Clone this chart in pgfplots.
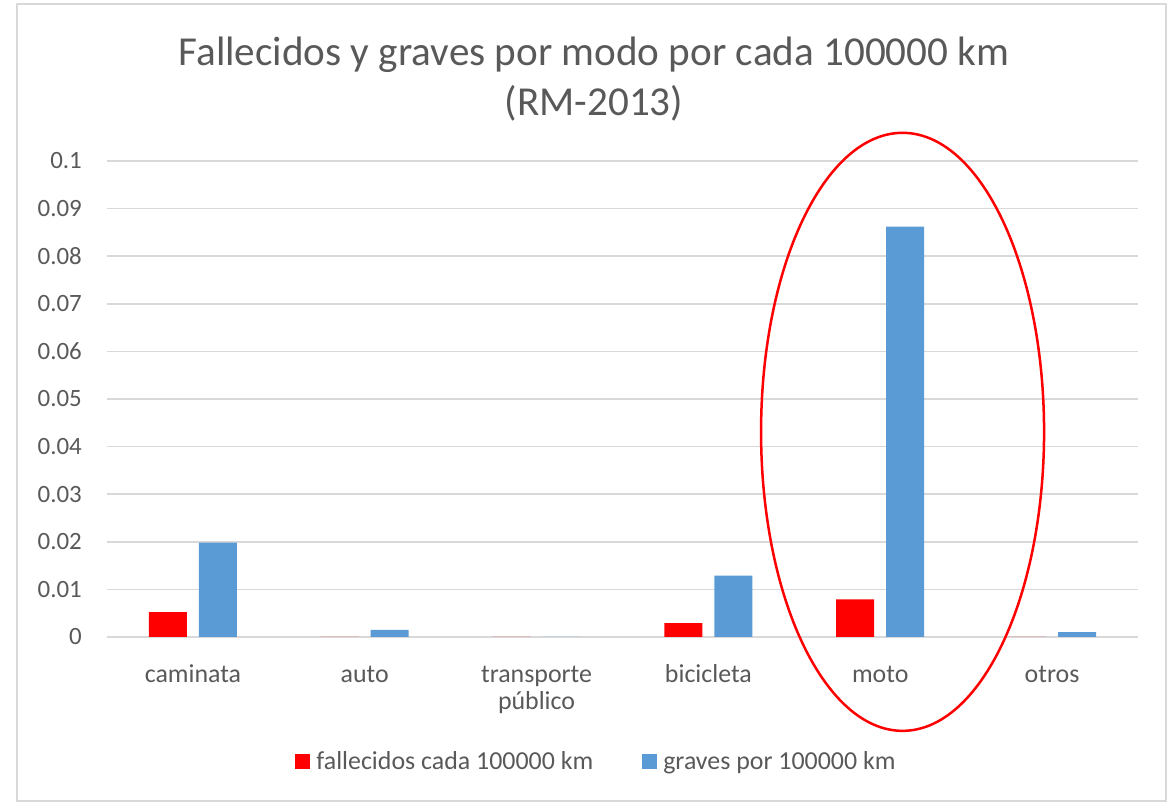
\documentclass[border=0pt]{standalone}
\usepackage{fontspec}
\setmainfont{Carlito}
\usepackage{pgfplots}
\pgfplotsset{compat=1.18}
\definecolor{txt}{HTML}{595959}
\definecolor{gridc}{HTML}{D9D9D9}
\definecolor{bred}{HTML}{FF0000}
\definecolor{bblue}{HTML}{5B9BD5}
\begin{document}
\begin{tikzpicture}[x=1bp,y=1bp]
\path (0,0) rectangle (1174,804);
\draw[gridc, line width=2bp] (17,3) rectangle (1166,800);
\node[txt, font=\fontsize{41.3}{48}\selectfont, anchor=base, inner sep=0pt] at (594,738) {Fallecidos y graves por modo por cada 100000 km};
\node[txt, font=\fontsize{41.3}{48}\selectfont, anchor=base, inner sep=0pt] at (594,688) {(RM-2013)};
\begin{axis}[
  at={(107bp,167bp)}, anchor=south west,
  scale only axis, width=1031bp, height=476bp,
  xmin=-0.5, xmax=5.5, ymin=0, ymax=0.1,
  ybar=12bp, bar width=38bp,
  axis line style={draw=none}, tick style={draw=none},
  ymajorgrids, xmajorgrids=false,
  grid style={gridc, line width=1.5bp},
  ytick={0,0.01,0.02,0.03,0.04,0.05,0.06,0.07,0.08,0.09,0.1},
  yticklabel style={/pgf/number format/.cd, fixed, precision=2, assume math mode=true, /tikz/.cd, txt, font=\fontsize{25}{30}\selectfont, inner sep=0pt, anchor=east, xshift=-25bp},
  xtick={0,1,2,3,4,5},
  xticklabels={\strut caminata, \strut auto, {\strut transporte\\público}, \strut bicicleta, \strut moto, \strut otros},
  xticklabel style={align=center, txt, font=\fontsize{26}{27}\selectfont, inner sep=0pt, anchor=north, yshift=-22bp},
  clip=false,
  legend columns=2,
  legend style={at={(rel axis cs:0.4743,-0.2616)}, anchor=center, draw=none, fill=none,
    font=\fontsize{26}{30}\selectfont, text=txt,
    /tikz/every odd column/.append style={column sep=5bp},
    /tikz/every even column/.append style={column sep=48bp},
    nodes={inner sep=1bp}},
  legend image code/.code={\fill[#1] (0bp,-7.5bp) rectangle (15bp,7.5bp);},
]
\addplot[fill=bred, draw=none] coordinates {(0,0.0052) (1,0) (2,0) (3,0.0029) (4,0.0079) (5,0)};
\addplot[fill=bblue, draw=none] coordinates {(0,0.0198) (1,0.0015) (2,0) (3,0.0129) (4,0.0862) (5,0.0010)};
\legend{fallecidos cada 100000 km, graves por 100000 km}
\draw[bred, line width=2.5bp] (axis cs:4.13,0.0431) ellipse [x radius=141.5bp, y radius=299bp];
\end{axis}
\end{tikzpicture}
\end{document}
